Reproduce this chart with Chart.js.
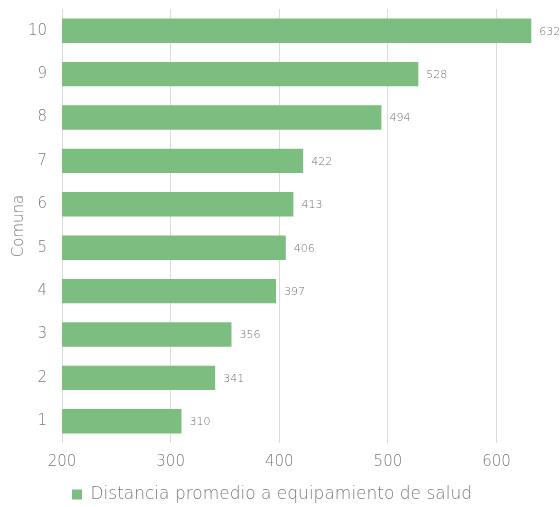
<!DOCTYPE html>
<html>
<head>
<meta charset="utf-8">
<script src="https://cdn.jsdelivr.net/npm/chart.js@4/dist/chart.umd.min.js"></script>
<style>
  html, body { margin: 0; padding: 0; background: #fff; }
  #wrap { width: 560px; height: 507px; position: relative; }
</style>
</head>
<body>
<div id="wrap"><canvas id="chart"></canvas></div>
<script>
// datos
const comunas = ["1", "2", "3", "4", "5", "6", "7", "8", "9", "10"];
const distancias = [310, 341, 356, 397, 406, 413, 422, 494, 528, 632];
const ticksX = [200, 300, 400, 500, 600];

const verde = "rgb(124, 190, 128)";
const gris = "#7a7a7a";
const fuente = "'DejaVu Sans', sans-serif";

// etiquetas al final de cada barra
const etiquetas = {
  id: "etiquetas",
  afterDatasetsDraw(chart) {
    const ctx = chart.ctx;
    const meta = chart.getDatasetMeta(0);
    ctx.save();
    ctx.font = "200 11px " + fuente;
    ctx.fillStyle = "#6f6f6f";
    ctx.textBaseline = "middle";
    meta.data.forEach((bar, i) => {
      ctx.fillText(String(distancias[i]), bar.x + 8, bar.y + 1);
    });
    ctx.restore();
  },
};

new Chart(document.getElementById("chart"), {
  type: "bar",
  data: {
    labels: comunas,
    datasets: [
      {
        label: "Distancia promedio a equipamiento de salud",
        data: distancias,
        backgroundColor: verde,
        borderWidth: 0,
        barPercentage: 0.75,
        categoryPercentage: 0.75,
      },
    ],
  },
  options: {
    indexAxis: "y",
    responsive: true,
    maintainAspectRatio: false,
    animation: false,
    layout: { padding: { top: 9, right: 20, left: 4, bottom: -6 } },
    scales: {
      x: {
        min: 200,
        max: 640,
        afterBuildTicks: (axis) => {
          axis.ticks = ticksX.map((v) => ({ value: v }));
        },
        afterFit: (axis) => {
          axis.height += 3;
        },
        grid: { color: "#dcdcdc", drawTicks: false },
        border: { display: false },
        ticks: {
          color: gris,
          padding: 10,
          font: { family: fuente, size: 15, weight: "200" },
        },
      },
      y: {
        reverse: true,
        afterFit: (axis) => {
          axis.width = 58;
          axis.paddingTop = 0;
          axis.paddingBottom = 0;
        },
        grid: { display: false, drawTicks: false },
        border: { display: false },
        title: {
          display: true,
          text: "Comuna",
          color: gris,
          padding: 6,
          font: { family: fuente, size: 15, weight: "200" },
        },
        ticks: {
          color: gris,
          padding: 15,
          font: { family: fuente, size: 15, weight: "200" },
        },
      },
    },
    plugins: {
      legend: {
        position: "bottom",
        labels: {
          color: gris,
          boxWidth: 10,
          boxHeight: 10,
          padding: 2,
          font: { family: fuente, size: 17, weight: "200" },
        },
      },
      tooltip: { enabled: false },
    },
  },
  plugins: [etiquetas],
});
</script>
</body>
</html>
